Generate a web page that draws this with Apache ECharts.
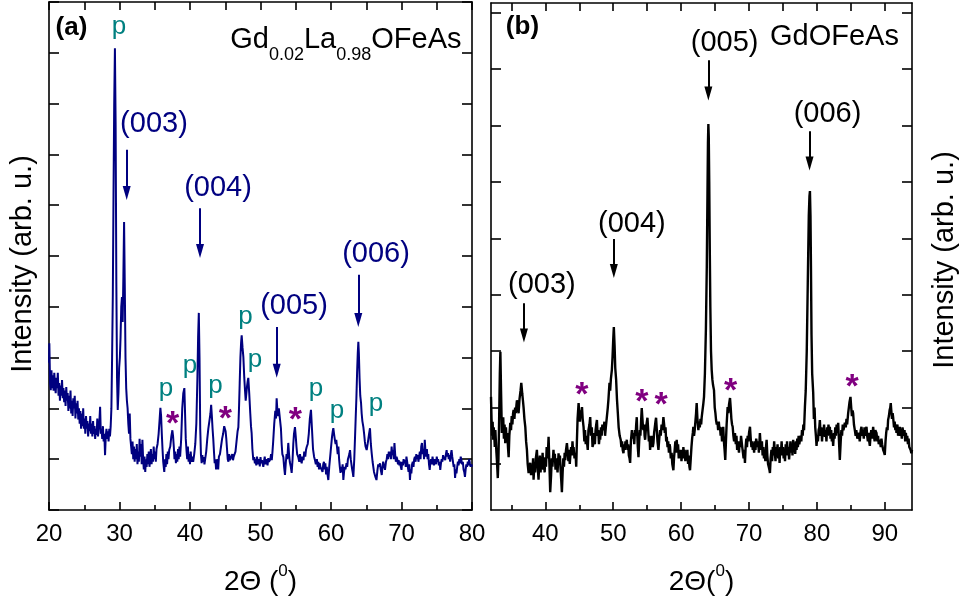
<!DOCTYPE html>
<html>
<head>
<meta charset="utf-8">
<script src="https://cdn.jsdelivr.net/npm/echarts@6/dist/echarts.min.js"></script>
<style>
  html, body { margin: 0; padding: 0; background: #fff; }
  #chart { width: 959px; height: 603px; }
</style>
</head>
<body>
<div id="chart"></div>
<script>
// XRD patterns of Gd0.02La0.98OFeAs (a) and GdOFeAs (b)
const FONT = "'Liberation Sans', Arial, Helvetica, sans-serif";
const NAVY = '#000080';
const TEAL = '#008080';
const PURPLE = '#800080';

// (a) [2θ (deg), intensity (arb. u.)]
const patternA = [
[20.0,290],[20.05,328],[20.15,250],[20.25,236],[20.35,275],[20.45,240],[20.55,265],[20.65,235],[20.75,270],[20.85,245],
[20.95,230],[21.05,260],[21.15,240],[21.25,270],[21.35,225],[21.45,250],[21.55,215],[21.65,245],[21.75,225],[21.85,256],
[21.95,220],[22.05,240],[22.15,212],[22.25,235],[22.35,205],[22.45,242],[22.55,215],[22.65,230],[22.75,195],[22.85,225],
[22.95,200],[23.05,235],[23.15,190],[23.25,215],[23.35,185],[23.45,220],[23.55,200],[23.65,225],[23.75,180],[23.85,210],
[23.95,190],[24.05,215],[24.15,178],[24.25,200],[24.35,170],[24.45,195],[24.55,160],[24.65,190],[24.75,165],[24.85,200],
[24.95,160],[25.05,180],[25.15,150],[25.25,185],[25.35,160],[25.45,175],[25.55,145],[25.65,170],[25.75,155],[25.85,185],
[25.95,150],[26.05,170],[26.15,145],[26.25,175],[26.35,150],[26.45,165],[26.55,140],[26.65,160],[26.75,148],[26.85,180],
[26.95,145],[27.05,160],[27.15,175],[27.25,203],[27.35,150],[27.45,160],[27.55,140],[27.65,165],[27.75,135],[27.85,150],
[27.95,108],[28.05,145],[28.15,160],[28.25,140],[28.35,155],[28.45,135],[28.55,160],[28.65,145],[28.75,165],[28.85,200],
[28.95,300],[29.05,420],[29.15,620],[29.25,800],[29.35,909],[29.45,760],[29.55,450],[29.65,260],[29.75,197],[29.85,230],
[29.95,280],[30.05,300],[30.15,340],[30.25,400],[30.35,419],[30.45,370],[30.55,460],[30.65,567],[30.75,440],[30.85,300],
[30.95,240],[31.05,215],[31.15,200],[31.25,170],[31.35,150],[31.45,190],[31.55,140],[31.65,125],[31.75,110],[31.85,135],
[31.95,100],[32.05,125],[32.15,95],[32.25,120],[32.35,100],[32.45,130],[32.55,90],[32.65,115],[32.75,95],[32.85,140],
[32.95,105],[33.05,130],[33.15,90],[33.25,138],[33.35,100],[33.45,80],[33.55,105],[33.65,75],[33.75,100],[33.85,85],
[33.95,110],[34.05,90],[34.15,115],[34.25,85],[34.35,100],[34.45,120],[34.55,90],[34.65,110],[34.75,95],[34.85,125],
[34.95,100],[35.05,115],[35.15,95],[35.25,120],[35.4,130],[35.55,150],[35.7,180],[35.8,201],[35.9,185],[36.0,150],
[36.1,120],[36.2,95],[36.35,75],[36.45,100],[36.55,85],[36.65,110],[36.75,90],[36.85,115],[36.95,100],[37.05,118],
[37.2,125],[37.35,145],[37.5,157],[37.6,145],[37.7,125],[37.8,100],[37.9,115],[38.0,92],[38.1,110],[38.2,95],
[38.3,120],[38.4,100],[38.5,125],[38.6,105],[38.75,140],[38.9,200],[39.05,230],[39.2,240],[39.3,190],[39.4,140],
[39.5,118],[39.6,100],[39.7,125],[39.8,95],[39.9,110],[40.0,90],[40.1,115],[40.2,95],[40.3,105],[40.45,95],
[40.6,110],[40.75,130],[40.9,170],[41.05,260],[41.15,340],[41.25,388],[41.35,300],[41.45,160],[41.55,110],[41.65,92],
[41.75,108],[41.85,95],[41.95,104],[42.05,90],[42.15,100],[42.3,115],[42.45,140],[42.6,160],[42.75,175],[42.9,190],
[43.0,207],[43.1,185],[43.2,160],[43.3,140],[43.4,115],[43.5,92],[43.6,100],[43.7,80],[43.8,100],[43.9,95],
[44.0,80],[44.1,105],[44.25,110],[44.4,125],[44.55,140],[44.7,150],[44.85,165],[44.95,167],[45.05,155],[45.15,140],
[45.25,120],[45.35,100],[45.45,95],[45.55,110],[45.67,98],[45.8,100],[45.9,95],[46.0,110],[46.1,98],[46.2,105],
[46.3,104],[46.45,115],[46.6,135],[46.75,155],[46.86,163],[46.95,200],[47.05,250],[47.15,300],[47.25,330],[47.33,344],
[47.45,320],[47.57,301],[47.7,260],[47.8,236],[47.9,215],[48.0,230],[48.1,245],[48.2,255],[48.27,260],[48.4,230],
[48.55,190],[48.65,165],[48.74,152],[48.85,120],[48.98,98],[49.1,104],[49.2,92],[49.3,100],[49.4,88],[49.5,105],
[49.6,95],[49.7,90],[49.8,100],[49.9,86],[50.0,104],[50.1,92],[50.2,98],[50.3,100],[50.4,85],[50.5,96],
[50.6,105],[50.7,90],[50.8,95],[50.9,100],[51.0,88],[51.1,102],[51.2,95],[51.3,92],[51.4,100],[51.5,110],
[51.6,98],[51.7,115],[51.8,135],[51.95,170],[52.1,195],[52.2,180],[52.29,220],[52.4,195],[52.5,185],[52.6,200],
[52.77,203],[52.9,160],[53.0,130],[53.1,110],[53.24,104],[53.35,85],[53.47,69],[53.6,95],[53.7,110],[53.8,100],
[53.94,132],[54.05,110],[54.15,95],[54.3,85],[54.42,73],[54.55,100],[54.65,130],[54.75,150],[54.89,163],[55.0,145],
[55.1,125],[55.2,110],[55.36,104],[55.5,95],[55.6,110],[55.7,100],[55.84,92],[55.95,105],[56.1,98],[56.2,115],
[56.35,105],[56.45,118],[56.55,124],[56.7,130],[56.85,150],[57.0,180],[57.16,197],[57.3,160],[57.45,120],[57.6,105],
[57.73,98],[57.85,90],[58.0,100],[58.1,85],[58.2,95],[58.3,80],[58.4,92],[58.5,85],[58.68,85],[58.8,75],
[58.9,90],[59.0,95],[59.1,80],[59.2,92],[59.3,70],[59.4,85],[59.5,70],[59.62,59],[59.75,85],[59.85,100],
[59.95,115],[60.05,130],[60.15,145],[60.25,155],[60.33,161],[60.45,148],[60.55,138],[60.65,130],[60.75,138],[60.85,124],
[60.95,110],[61.05,125],[61.15,100],[61.25,85],[61.35,73],[61.45,85],[61.55,75],[61.65,90],[61.75,59],[61.85,75],
[61.95,85],[62.05,80],[62.2,92],[62.3,85],[62.4,100],[62.5,105],[62.6,110],[62.7,118],[62.8,100],[62.9,90],
[63.0,80],[63.1,72],[63.17,65],[63.3,100],[63.4,140],[63.5,180],[63.6,220],[63.7,270],[63.8,310],[63.88,331],
[63.95,310],[64.05,260],[64.15,225],[64.26,211],[64.35,190],[64.45,175],[64.59,163],[64.7,150],[64.8,135],[64.9,125],
[65.06,118],[65.2,130],[65.3,140],[65.4,150],[65.53,161],[65.65,130],[65.77,112],[65.9,95],[66.0,85],[66.1,75],
[66.2,70],[66.3,65],[66.45,59],[66.6,80],[66.7,90],[66.8,85],[66.95,92],[67.05,80],[67.2,69],[67.3,85],
[67.4,95],[67.5,88],[67.66,79],[67.8,95],[67.9,100],[68.0,110],[68.1,100],[68.2,115],[68.3,105],[68.4,115],
[68.5,100],[68.6,125],[68.7,108],[68.8,118],[68.9,100],[69.0,132],[69.1,110],[69.2,95],[69.3,105],[69.4,100],
[69.5,90],[69.6,98],[69.7,88],[69.8,95],[69.9,85],[70.0,79],[70.1,95],[70.2,88],[70.3,100],[70.4,92],
[70.5,98],[70.6,85],[70.7,105],[70.8,95],[70.9,85],[71.0,75],[71.1,90],[71.2,59],[71.3,80],[71.4,72],
[71.5,90],[71.6,95],[71.7,85],[71.8,100],[71.9,105],[72.0,95],[72.1,110],[72.2,100],[72.3,108],[72.4,95],
[72.5,105],[72.6,115],[72.7,100],[72.8,125],[72.9,132],[73.0,110],[73.1,120],[73.2,100],[73.3,138],[73.4,115],
[73.5,105],[73.6,120],[73.7,100],[73.8,110],[73.9,90],[74.0,79],[74.1,95],[74.2,100],[74.3,90],[74.4,105],
[74.5,95],[74.6,88],[74.7,100],[74.8,98],[74.9,90],[75.0,105],[75.1,95],[75.2,100],[75.3,88],[75.4,95],
[75.5,79],[75.6,92],[75.7,100],[75.8,95],[75.9,108],[76.0,100],[76.1,105],[76.2,98],[76.3,110],[76.4,118],
[76.5,105],[76.6,112],[76.7,100],[76.8,108],[76.9,95],[77.0,110],[77.1,118],[77.2,105],[77.3,95],[77.4,85],
[77.5,90],[77.6,63],[77.7,80],[77.8,72],[77.9,85],[78.0,95],[78.1,88],[78.2,100],[78.3,92],[78.4,105],
[78.5,98],[78.6,90],[78.7,95],[78.8,80],[78.9,75],[79.0,65],[79.1,80],[79.2,90],[79.3,85],[79.4,95],
[79.5,88],[79.6,100],[79.7,92],[79.8,85],[79.9,90],[80.0,85]
];

// (b) [2θ (deg), intensity (arb. u.)]
const patternB = [
[32.0,219],[32.08,180],[32.16,150],[32.24,175],[32.32,143],[32.4,165],[32.48,150],[32.56,130],[32.64,160],[32.72,140],
[32.8,120],[32.9,100],[33.0,75],[33.1,110],[33.2,180],[33.3,260],[33.38,299],[33.48,230],[33.6,155],[33.7,170],
[33.8,183],[33.9,145],[34.0,170],[34.1,137],[34.2,165],[34.3,140],[34.4,155],[34.5,130],[34.6,112],[34.7,150],
[34.84,173],[34.95,160],[35.05,185],[35.15,170],[35.25,190],[35.33,196],[35.45,180],[35.55,200],[35.65,190],[35.75,205],
[35.82,213],[35.95,200],[36.06,190],[36.2,215],[36.35,230],[36.46,244],[36.6,225],[36.7,213],[36.8,200],[36.92,180],
[37.05,166],[37.17,140],[37.29,125],[37.4,100],[37.54,84],[37.65,95],[37.78,102],[37.9,80],[38.0,95],[38.1,85],
[38.2,110],[38.27,72],[38.4,100],[38.5,85],[38.6,110],[38.76,125],[38.88,95],[39.0,72],[39.1,100],[39.2,115],
[39.3,85],[39.4,105],[39.5,95],[39.6,120],[39.7,90],[39.8,105],[39.9,85],[39.99,112],[40.1,95],[40.2,130],
[40.3,110],[40.4,125],[40.48,148],[40.6,100],[40.72,50],[40.85,80],[40.95,110],[41.05,95],[41.2,125],[41.3,105],
[41.4,118],[41.5,90],[41.6,110],[41.7,102],[41.8,85],[41.95,119],[42.05,100],[42.15,115],[42.25,90],[42.35,70],
[42.44,50],[42.55,85],[42.65,110],[42.75,95],[42.85,120],[42.93,107],[43.05,125],[43.18,137],[43.3,120],[43.4,105],
[43.5,125],[43.6,100],[43.67,112],[43.8,130],[43.9,115],[44.0,140],[44.1,120],[44.16,130],[44.3,110],[44.45,120],
[44.55,95],[44.65,140],[44.75,180],[44.9,208],[45.0,190],[45.1,175],[45.2,195],[45.3,185],[45.4,201],[45.5,180],
[45.63,166],[45.75,140],[45.85,160],[45.95,135],[46.05,150],[46.12,148],[46.25,125],[46.35,160],[46.5,170],[46.61,183],
[46.72,150],[46.85,165],[46.95,130],[47.1,137],[47.2,155],[47.3,135],[47.4,160],[47.5,170],[47.6,178],[47.7,150],
[47.8,160],[47.9,135],[48.0,150],[48.08,143],[48.2,165],[48.3,150],[48.4,170],[48.57,160],[48.7,175],[48.8,150],
[48.95,170],[49.06,183],[49.2,200],[49.3,215],[49.45,244],[49.55,230],[49.65,250],[49.8,267],[49.9,290],[50.0,320],
[50.09,343],[50.2,310],[50.3,270],[50.43,249],[50.55,215],[50.68,190],[50.8,165],[50.95,150],[51.1,143],[51.2,130],
[51.3,140],[51.4,125],[51.51,119],[51.6,135],[51.7,125],[51.8,140],[51.9,130],[52.0,143],[52.1,125],[52.2,135],
[52.3,115],[52.4,110],[52.49,102],[52.6,140],[52.75,160],[52.85,145],[52.98,155],[53.1,135],[53.2,160],[53.3,150],
[53.38,170],[53.47,183],[53.55,150],[53.62,130],[53.72,112],[53.82,140],[53.92,160],[54.0,150],[54.1,175],[54.2,199],
[54.3,180],[54.38,165],[54.45,160],[54.55,170],[54.62,150],[54.7,143],[54.8,160],[54.9,170],[55.04,182],[55.15,160],
[55.25,140],[55.35,150],[55.43,125],[55.52,140],[55.62,130],[55.72,150],[55.82,130],[55.92,137],[56.02,155],[56.12,165],
[56.22,175],[56.31,182],[56.42,160],[56.52,140],[56.66,125],[56.78,145],[56.9,160],[57.0,150],[57.12,170],[57.25,160],
[57.39,183],[57.5,170],[57.6,155],[57.7,165],[57.8,140],[57.88,148],[58.0,130],[58.1,140],[58.2,120],[58.3,135],
[58.37,130],[58.48,110],[58.6,120],[58.7,100],[58.86,89],[58.95,110],[59.05,125],[59.15,140],[59.25,120],[59.35,143],
[59.45,125],[59.55,135],[59.65,110],[59.75,120],[59.84,112],[59.95,125],[60.05,105],[60.15,120],[60.25,110],[60.33,130],
[60.43,115],[60.52,125],[60.62,105],[60.72,120],[60.82,112],[60.92,125],[61.02,100],[61.12,115],[61.22,95],[61.31,89],
[61.42,110],[61.52,130],[61.62,145],[61.72,155],[61.8,166],[61.9,150],[62.0,160],[62.1,175],[62.2,190],[62.29,208],
[62.4,180],[62.54,160],[62.65,175],[62.75,165],[62.85,180],[62.95,170],[63.03,183],[63.15,195],[63.25,205],[63.37,219],
[63.5,260],[63.65,340],[63.78,450],[63.88,580],[63.95,670],[64.01,703],[64.07,680],[64.14,600],[64.22,480],[64.3,380],
[64.4,300],[64.5,267],[64.6,250],[64.7,240],[64.84,231],[64.95,200],[65.05,190],[65.14,178],[65.25,170],[65.35,175],
[65.45,160],[65.55,175],[65.65,160],[65.72,166],[65.82,150],[65.92,165],[66.02,140],[66.1,155],[66.2,166],[66.3,140],
[66.4,125],[66.5,107],[66.6,140],[66.7,170],[66.85,201],[66.95,190],[67.05,205],[67.2,217],[67.3,200],[67.4,180],
[67.5,170],[67.59,166],[67.7,150],[67.8,140],[67.93,155],[68.05,135],[68.15,150],[68.25,125],[68.35,140],[68.42,143],
[68.52,120],[68.62,140],[68.72,130],[68.82,150],[68.91,148],[69.0,130],[69.1,120],[69.2,110],[69.3,125],[69.4,102],
[69.5,130],[69.6,145],[69.7,130],[69.8,150],[69.9,140],[70.0,155],[70.14,166],[70.25,145],[70.35,130],[70.45,140],
[70.55,125],[70.63,137],[70.75,120],[70.85,140],[70.95,125],[71.05,145],[71.12,148],[71.25,130],[71.35,140],[71.45,120],
[71.6,155],[71.7,135],[71.8,125],[71.9,140],[72.0,115],[72.1,130],[72.2,110],[72.3,125],[72.4,105],[72.5,130],
[72.59,143],[72.7,115],[72.8,100],[72.9,95],[73.0,90],[73.08,84],[73.18,110],[73.3,125],[73.4,105],[73.5,130],
[73.6,115],[73.7,140],[73.8,120],[73.9,105],[74.0,130],[74.1,115],[74.2,135],[74.3,110],[74.4,125],[74.5,102],
[74.6,130],[74.7,120],[74.8,140],[74.9,115],[75.0,130],[75.1,110],[75.2,125],[75.3,105],[75.4,135],[75.5,120],
[75.6,140],[75.7,115],[75.8,130],[75.9,108],[76.0,125],[76.1,140],[76.2,120],[76.3,135],[76.4,115],[76.5,143],
[76.6,125],[76.7,135],[76.8,118],[76.9,140],[77.0,125],[77.1,145],[77.2,130],[77.3,150],[77.4,135],[77.49,132],
[77.6,150],[77.7,140],[77.8,160],[77.9,150],[78.0,170],[78.1,160],[78.23,201],[78.35,230],[78.5,300],[78.65,420],
[78.8,540],[78.9,575],[78.97,584],[79.05,540],[79.12,450],[79.2,330],[79.3,260],[79.45,226],[79.55,180],[79.65,200],
[79.75,165],[79.85,150],[79.94,132],[80.05,150],[80.15,140],[80.25,160],[80.35,165],[80.43,178],[80.55,150],[80.65,165],
[80.75,140],[80.85,160],[80.95,150],[81.05,170],[81.17,148],[81.3,160],[81.4,140],[81.5,165],[81.6,150],[81.7,170],
[81.8,155],[81.9,166],[82.0,145],[82.1,160],[82.2,140],[82.3,150],[82.39,132],[82.5,155],[82.6,145],[82.7,165],
[82.8,150],[82.9,170],[83.0,155],[83.13,173],[83.25,140],[83.37,107],[83.5,140],[83.6,160],[83.7,150],[83.8,170],
[83.9,160],[84.0,165],[84.11,173],[84.25,165],[84.35,180],[84.45,170],[84.6,190],[84.7,200],[84.8,210],[84.94,219],
[85.05,200],[85.15,185],[85.25,195],[85.33,190],[85.45,170],[85.58,160],[85.7,150],[85.8,160],[85.95,145],[86.07,143],
[86.2,155],[86.3,140],[86.45,160],[86.56,166],[86.7,150],[86.8,160],[86.9,145],[87.0,165],[87.1,150],[87.2,160],
[87.3,166],[87.4,150],[87.5,140],[87.6,155],[87.7,140],[87.79,132],[87.9,150],[88.0,160],[88.1,145],[88.2,155],
[88.28,166],[88.4,150],[88.5,140],[88.6,160],[88.77,155],[88.9,140],[89.0,150],[89.1,135],[89.26,143],[89.4,130],
[89.5,145],[89.6,135],[89.75,125],[89.9,120],[89.99,116],[90.1,140],[90.2,155],[90.3,165],[90.4,160],[90.48,178],
[90.6,185],[90.7,195],[90.8,200],[90.87,208],[90.95,195],[91.05,180],[91.15,190],[91.22,183],[91.35,165],[91.45,175],
[91.55,160],[91.65,165],[91.71,155],[91.85,170],[91.95,150],[92.05,160],[92.2,166],[92.3,150],[92.4,160],[92.5,145],
[92.6,165],[92.69,166],[92.8,150],[92.9,160],[93.0,140],[93.1,155],[93.18,143],[93.3,150],[93.4,135],[93.5,145],
[93.6,130],[93.67,130],[93.8,125],[93.91,119],[94.0,125]
];

// Miller-index labels [2θ, intensity, text] and their arrows [2θ, from, to]
const hklA = [[34.89, 760, '(003)'], [43.97, 633, '(004)'], [54.75, 401, '(005)'], [66.38, 503, '(006)']];
const arrowsA = [[31.02, 709, 624], [41.42, 594, 510], [52.3, 360, 274], [63.87, 463, 374]];
const hklB = [[39.5, 418, '(003)'], [52.74, 525, '(004)'], [66.41, 847, '(005)'], [81.56, 720, '(006)']];
const arrowsB = [[36.85, 385, 328], [50.09, 499, 442], [64.01, 816, 757], [78.91, 690, 633]];

// secondary-phase (p) and impurity (*) markers [2θ, intensity]
const phaseA = [[29.93, 951], [36.6, 238], [40.0, 283], [43.62, 244], [47.87, 380], [49.22, 295], [57.87, 238], [60.85, 195], [66.38, 209]];
const starA = [[37.55, 169], [45.0, 178], [54.94, 175]];
const starB = [[45.38, 222], [54.21, 208], [57.04, 204], [67.29, 228], [85.19, 236]];

// right-panel axis ticks
const ticksB = [40, 50, 60, 70, 80, 90];
const minorTicksB = [35, 45, 55, 65, 75, 85];
const topTicksB = [35, 40, 45, 50, 55, 60, 65, 70, 75, 80, 85, 90];
const yTicksB = [100, 200, 300, 400, 500, 600, 700, 800, 900];

const AXIS_LINE = { show: true, onZero: false, lineStyle: { color: '#000', width: 1.6 } };
const TICK_STYLE = { color: '#000', width: 1.6 };

// tip of a downward arrow: slim triangle padded to a square box
const ARROW = 'path://M-3,0 M11,14 M4,0 L8,14 L0,14 Z';

function baseAxis(extra) {
  return Object.assign({
    type: 'value',
    axisLine: AXIS_LINE,
    splitLine: { show: false },
    axisLabel: { show: false },
    nameMoveOverlap: false
  }, extra);
}

function textMarks(xAxisIndex, yAxisIndex, points, label, text) {
  return {
    type: 'scatter', xAxisIndex, yAxisIndex, silent: true, z: 10,
    symbolSize: 1, itemStyle: { color: 'rgba(255,255,255,0)', opacity: 1 },
    emphasis: { disabled: true },
    label: Object.assign({ show: true, position: 'inside', fontFamily: FONT, opacity: 1,
      textBorderWidth: 0, textShadowBlur: 0,
      formatter: p => (text !== undefined ? text : p.name) }, label),
    data: points.map(p => ({ name: p[2] || '', value: [p[0], p[1]] }))
  };
}

function arrows(list, color) {
  return {
    silent: true, symbol: ['none', ARROW], symbolSize: 14, animation: false,
    label: { show: false }, emphasis: { disabled: true },
    lineStyle: { color, width: 2, type: 'solid', opacity: 1 },
    itemStyle: { color },
    data: list.map(a => [{ coord: [a[0], a[1]] }, { coord: [a[0], a[2]] }])
  };
}

const xName = (txt) => ({
  name: txt, nameLocation: 'middle', nameGap: 53,
  nameTextStyle: { fontSize: 28, color: '#000', fontFamily: FONT,
    rich: { s: { fontSize: 17, color: '#000', fontFamily: FONT, padding: [0, 0, 22, 0] } } }
});
const yName = (gap, pad) => ({
  name: 'Intensity (arb. u.)', nameLocation: 'middle', nameGap: gap,
  nameTextStyle: { fontSize: 29, color: '#000', fontFamily: FONT, padding: [0, pad, 0, 0] }
});
const TICK_LABEL = { show: true, fontSize: 24, color: '#000', fontFamily: FONT, margin: 12 };

const option = {
  animation: false,
  backgroundColor: '#fff',
  grid: [
    { left: 49, top: 2, width: 423, height: 508, outerBoundsMode: 'none' },
    { left: 491, top: 3, width: 421, height: 507, outerBoundsMode: 'none' }
  ],
  xAxis: [
    baseAxis(Object.assign({ gridIndex: 0, position: 'bottom', min: 20, max: 80, interval: 10,
      axisTick: { inside: true, length: 8, lineStyle: TICK_STYLE },
      minorTick: { show: true, splitNumber: 2, length: 5, lineStyle: TICK_STYLE },
      axisLabel: TICK_LABEL }, xName('2Θ ({s|0})'))),
    baseAxis({ gridIndex: 0, position: 'top', min: 20, max: 80, interval: 5,
      axisTick: { inside: true, length: 8, lineStyle: TICK_STYLE } }),
    baseAxis(Object.assign({ gridIndex: 1, position: 'bottom', min: 32, max: 94,
      axisTick: { inside: true, length: 8, lineStyle: TICK_STYLE, customValues: ticksB },
      axisLabel: Object.assign({ customValues: ticksB }, TICK_LABEL) }, xName('2Θ({s|0})'))),
    baseAxis({ gridIndex: 1, position: 'bottom', min: 32, max: 94, axisLine: { show: false },
      axisTick: { inside: true, length: 5, lineStyle: TICK_STYLE, customValues: minorTicksB } }),
    baseAxis({ gridIndex: 1, position: 'top', min: 32, max: 94,
      axisTick: { inside: true, length: 8, lineStyle: TICK_STYLE, customValues: topTicksB } })
  ],
  yAxis: [
    baseAxis(Object.assign({ gridIndex: 0, position: 'left', min: 0, max: 1000, interval: 100,
      axisTick: { inside: true, length: 10, lineStyle: TICK_STYLE } }, yName(12, 16))),
    baseAxis({ gridIndex: 0, position: 'right', min: 0, max: 1000, interval: 100,
      axisTick: { inside: true, length: 10, lineStyle: TICK_STYLE } }),
    baseAxis({ gridIndex: 1, position: 'left', min: 18.4, max: 917.4,
      axisTick: { inside: true, length: 10, lineStyle: TICK_STYLE, customValues: yTicksB } }),
    baseAxis(Object.assign({ gridIndex: 1, position: 'right', min: 18.4, max: 917.4,
      axisTick: { inside: true, length: 10, lineStyle: TICK_STYLE, customValues: yTicksB } }, yName(18, 7)))
  ],
  series: [
    { type: 'line', xAxisIndex: 0, yAxisIndex: 0, data: patternA, showSymbol: false, symbol: 'none',
      silent: true, lineStyle: { color: NAVY, width: 2 }, z: 3, markLine: arrows(arrowsA, NAVY) },
    { type: 'line', xAxisIndex: 2, yAxisIndex: 2, data: patternB, showSymbol: false, symbol: 'none',
      silent: true, lineStyle: { color: '#000', width: 2.4 }, z: 3, markLine: arrows(arrowsB, '#000') },

    textMarks(0, 0, hklA, { fontSize: 29, color: NAVY }),
    textMarks(2, 2, hklB, { fontSize: 29, color: '#000' }),
    textMarks(0, 0, phaseA, { fontSize: 26, color: TEAL }, 'p'),
    textMarks(0, 0, starA, { fontSize: 34, fontWeight: 'bold', color: PURPLE }, '*'),
    textMarks(2, 2, starB, { fontSize: 34, fontWeight: 'bold', color: PURPLE }, '*'),

    textMarks(0, 0, [[23.19, 950]], { fontSize: 26, fontWeight: 'bold', color: '#000' }, '(a)'),
    textMarks(2, 2, [[36.63, 876]], { fontSize: 26, fontWeight: 'bold', color: '#000' }, '(b)'),
    textMarks(0, 0, [[78.58, 925]], {
      position: 'left', distance: 0, color: '#000',
      rich: {
        m: { fontSize: 29, color: '#000', fontFamily: FONT },
        s: { fontSize: 18, color: '#000', fontFamily: FONT, padding: [30, 0, 0, 0] }
      }
    }, '{m|Gd}{s|0.02}{m|La}{s|0.98}{m|OFeAs}'),
    textMarks(2, 2, [[92.15, 857]], { position: 'left', distance: 0, fontSize: 29, color: '#000' }, 'GdOFeAs')
  ]
};

const chart = echarts.init(document.getElementById('chart'), null, { renderer: 'canvas' });
chart.setOption(option);
</script>
</body>
</html>
